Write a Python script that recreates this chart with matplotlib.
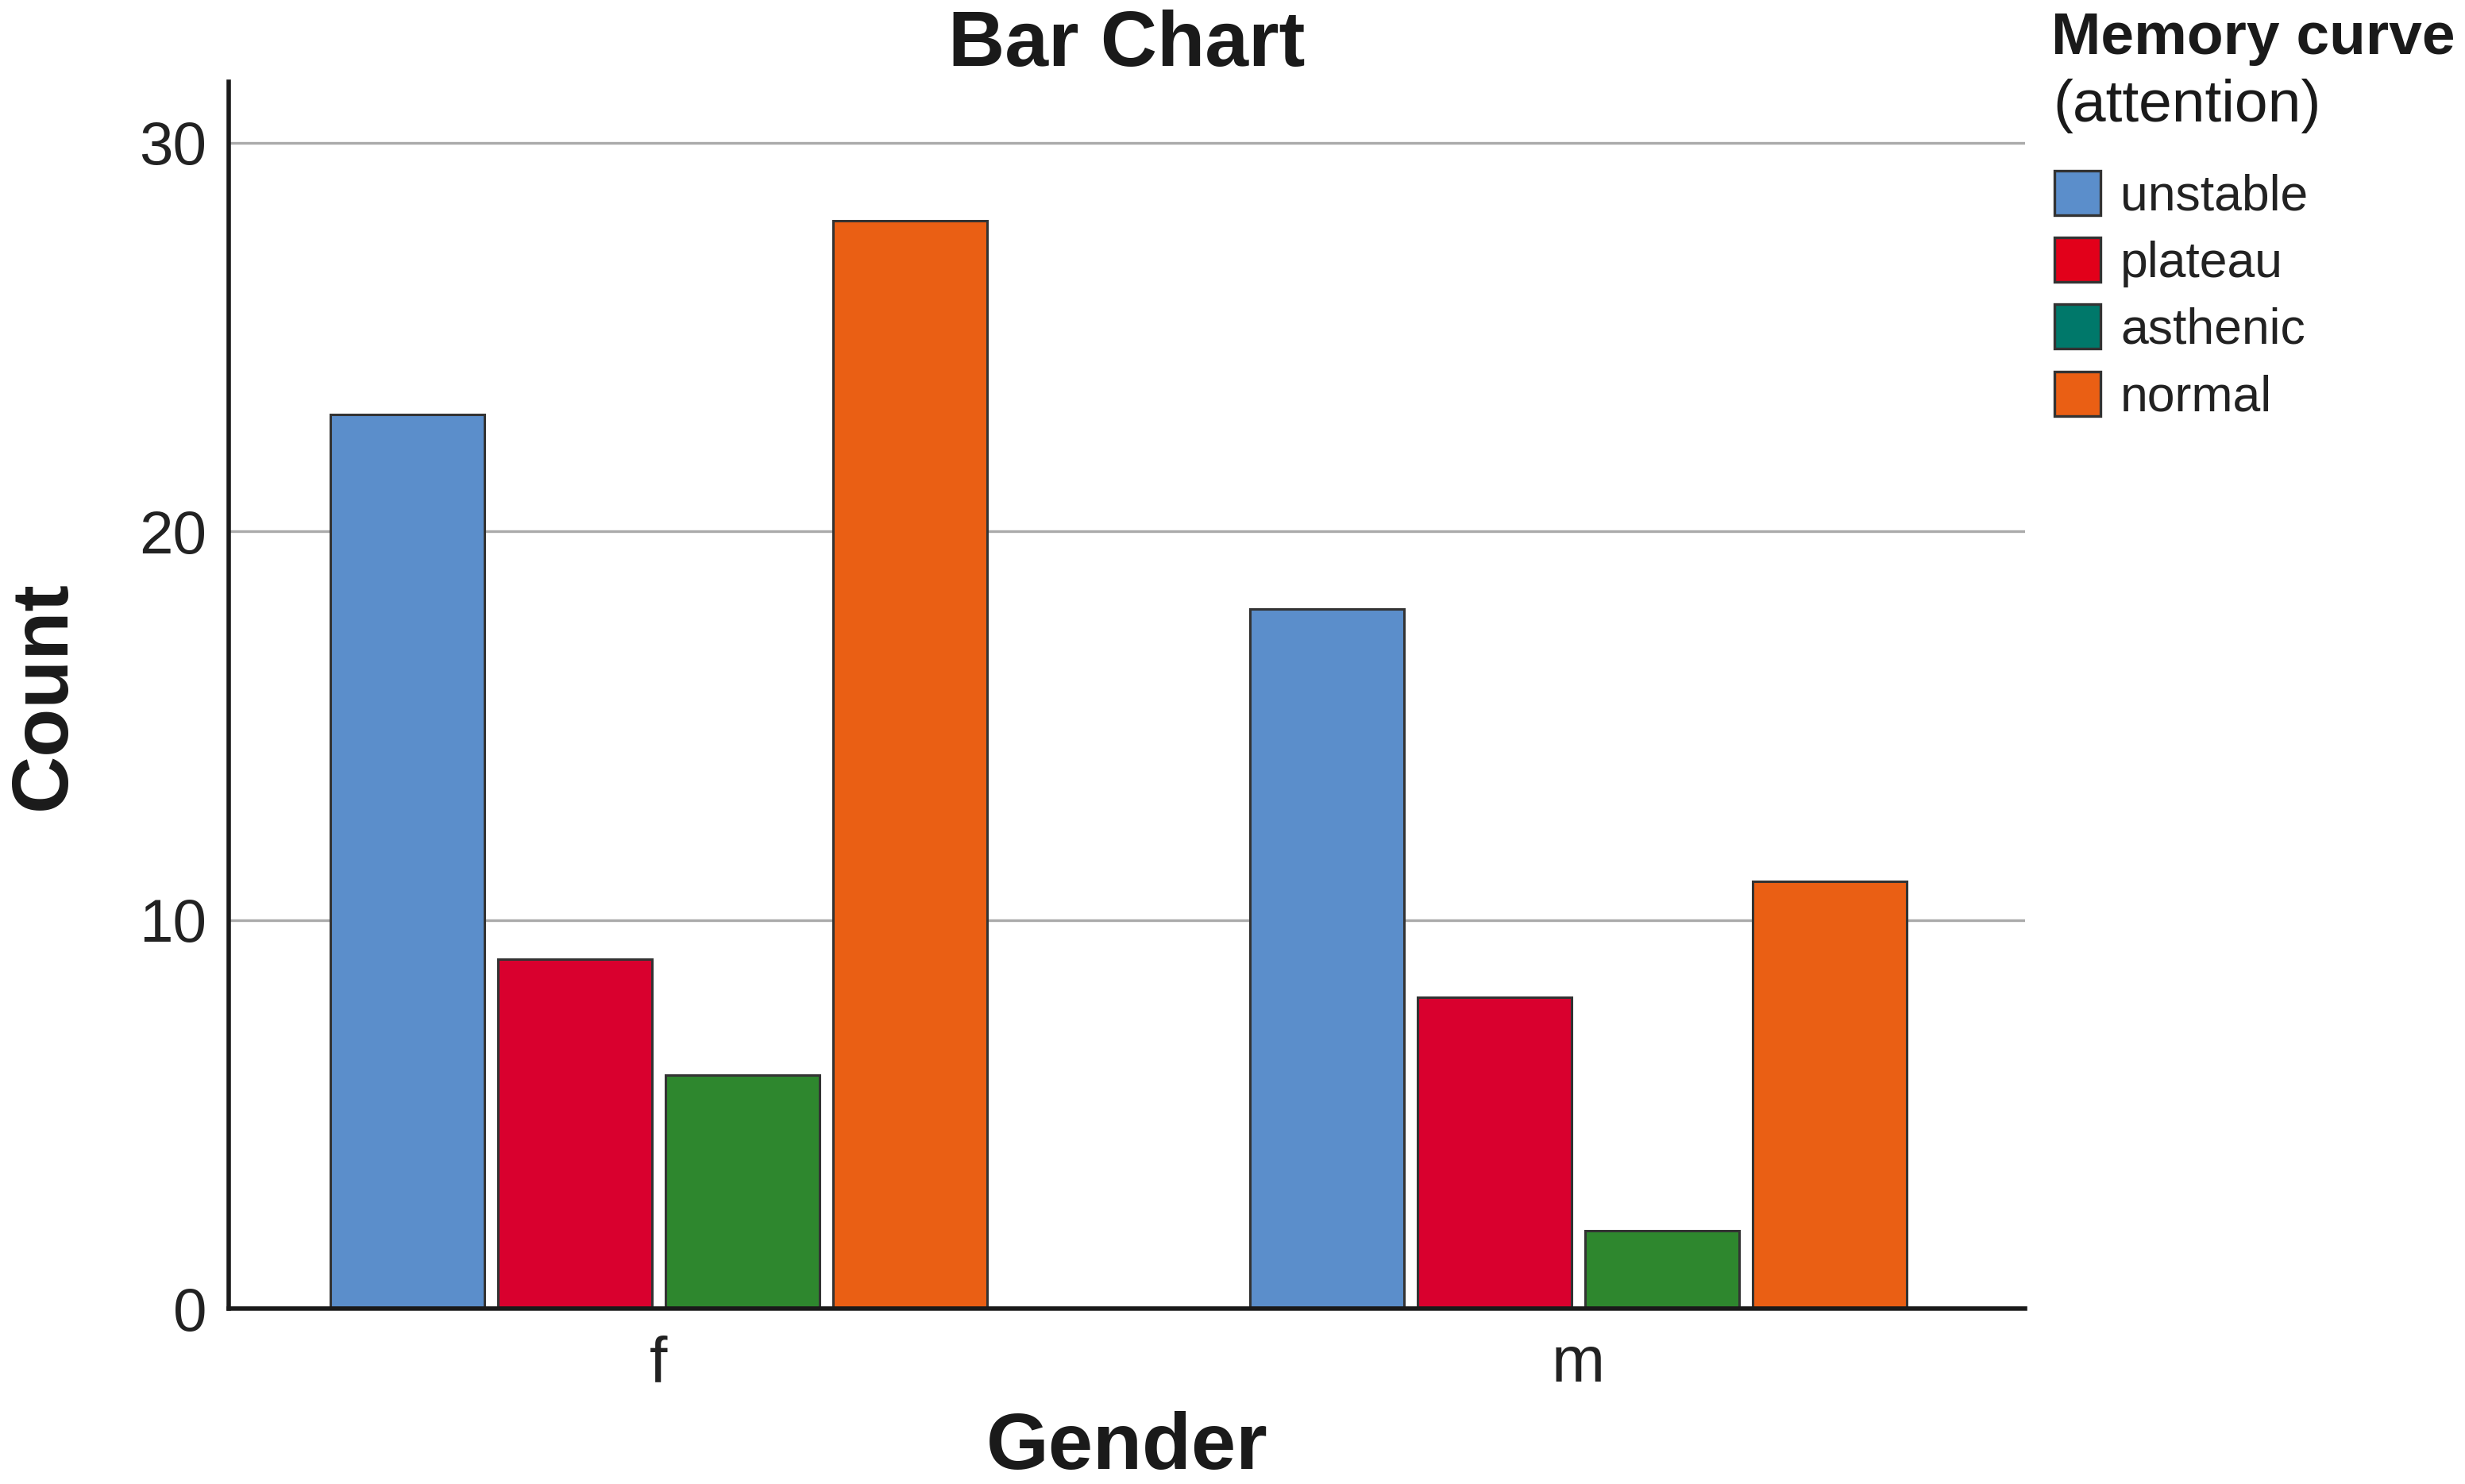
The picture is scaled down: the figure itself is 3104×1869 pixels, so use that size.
import matplotlib
matplotlib.use("Agg")
import matplotlib.pyplot as plt
from matplotlib.patches import Patch
import numpy as np

plt.rcParams['font.family'] = ['Liberation Sans', 'DejaVu Sans']

genders = ['f', 'm']
categories = ['unstable', 'plateau', 'asthenic', 'normal']
counts = {
    'unstable': [23, 18],
    'plateau': [9, 8],
    'asthenic': [6, 2],
    'normal': [28, 11],
}
bar_colors = ['#5B8ECB', '#D9002E', '#2E872E', '#EA5F14']
legend_colors = ['#5B8ECB', '#E2001A', '#00786A', '#EA5F14']
yticks = [0, 10, 20, 30]

W, H = 3104, 1869
fig = plt.figure(figsize=(W / 100, H / 100), dpi=100)
ax = fig.add_axes([288 / W, 1 - 1648 / H, (2550 - 288) / W, (1648 - 103) / H])

x = np.arange(len(genders))
step = 0.182
width = 0.1675
for i, cat in enumerate(categories):
    offs = (i - 1.5) * step
    ax.bar(x + offs, counts[cat], width=width, color=bar_colors[i],
           edgecolor='#333333', linewidth=2.2, zorder=3)

ax.set_xlim(-0.4676, 1.4857)
ax.set_ylim(0, 31.57)
ax.set_xticks(x)
ax.set_xticklabels(genders)
ax.set_yticks(yticks)
ax.tick_params(axis='y', length=0, labelsize=55, colors='#222222', pad=20)
ax.tick_params(axis='x', length=0, labelsize=58, colors='#222222', pad=24)
ax.yaxis.grid(True, color='#AAAAAA', linewidth=2.4, zorder=0)
ax.set_axisbelow(True)
for s in ['top', 'right']:
    ax.spines[s].set_visible(False)
for s in ['left', 'bottom']:
    ax.spines[s].set_linewidth(4)
    ax.spines[s].set_color('#1a1a1a')
    ax.spines[s].set_zorder(4)

ax.set_title('Bar Chart', fontsize=71, fontweight='bold', pad=11, color='#1a1a1a')
ax.set_xlabel('Gender', fontsize=73, fontweight='bold', labelpad=14, color='#1a1a1a')
ax.set_ylabel('Count', fontsize=72, fontweight='bold', labelpad=52, color='#1a1a1a')

fig.text(2583 / W, 1 - 68 / H, 'Memory curve', fontsize=54, fontweight='bold',
         ha='left', va='baseline', color='#1a1a1a')
fig.text(2585 / W, 1 - 153 / H, '(attention)', fontsize=54,
         ha='left', va='baseline', color='#1a1a1a')

handles = [Patch(facecolor=c, edgecolor='#333333', linewidth=2.4) for c in legend_colors]
leg = fig.legend(handles, categories, loc='upper left',
                 bbox_to_anchor=(2587 / W, 1 - 215 / H), frameon=False,
                 fontsize=45, handlelength=0.93, handleheight=1.0,
                 handletextpad=0.4, labelspacing=0.35, borderaxespad=0,
                 borderpad=0)
for t in leg.get_texts():
    t.set_color('#222222')

fig.savefig('out.png', dpi=100, facecolor='white')
